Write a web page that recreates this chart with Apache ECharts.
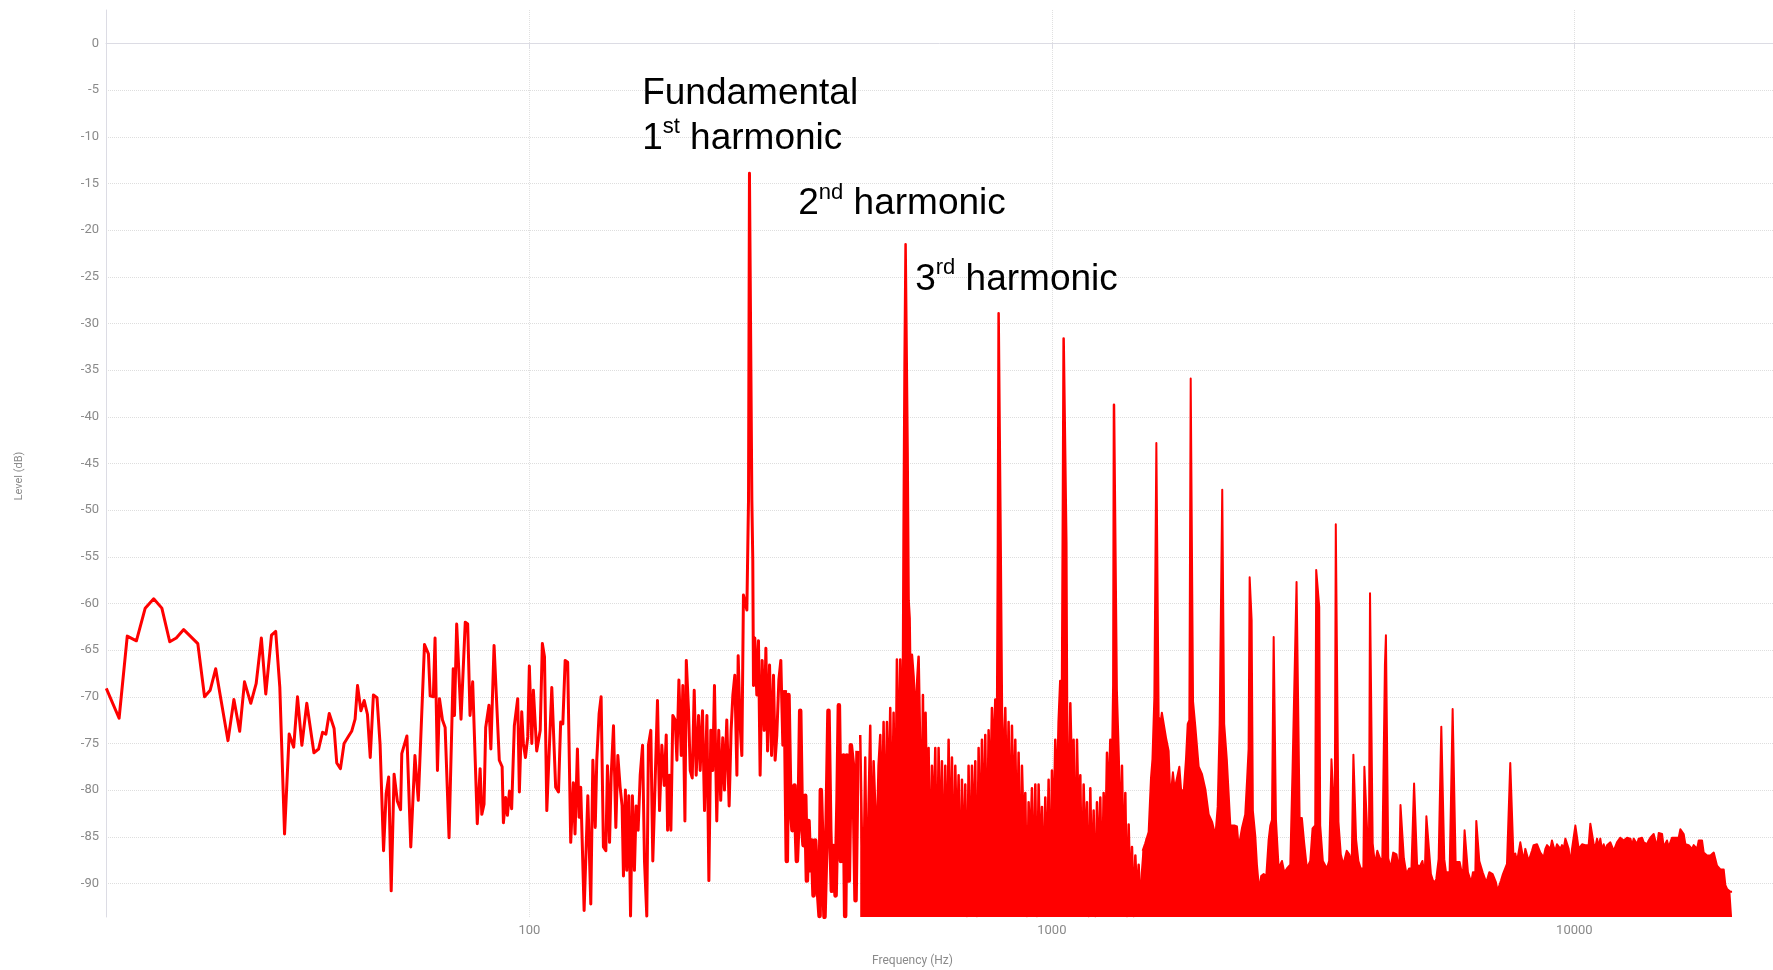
<!DOCTYPE html>
<html>
<head>
<meta charset="utf-8">
<title>Spectrum</title>
<script src="https://cdn.jsdelivr.net/npm/echarts@6/dist/echarts.min.js"></script>
<style>
  html, body { margin: 0; padding: 0; background: #fff; }
  #chart { width: 1773px; height: 970px; }
</style>
</head>
<body>
<div id="chart"></div>
<script>
// values: [frequency (Hz), level (dB)]

// 15 - 150 Hz, a single sparse trace
const lowSweep = [
  [15.5,-69.1],[16.4,-72.3],[17.0,-63.5],[17.7,-64.0],[18.4,-60.5],[19.1,-59.5],[19.8,-60.5],[20.5,-64.1],
  [21.1,-63.7],[21.8,-62.8],[23.2,-64.3],[23.9,-70.0],[24.5,-69.3],[25.1,-67.0],[26.5,-74.7],[27.2,-70.3],
  [27.9,-73.7],[28.5,-68.4],[29.3,-70.7],[30.0,-68.6],[30.7,-63.7],[31.3,-69.7],[32.1,-63.4],[32.7,-63.0],
  [33.3,-69.0],[34.0,-84.7],[34.7,-74.0],[35.4,-75.4],[36.0,-70.0],[36.7,-75.2],[37.5,-70.7],[38.7,-76.0],
  [39.5,-75.6],[40.2,-73.8],[40.8,-74.0],[41.4,-71.8],[42.3,-73.4],[42.8,-77.1],[43.5,-77.7],[44.2,-75.0],
  [45.1,-74.2],[45.7,-73.7],[46.4,-72.4],[46.9,-68.8],[47.6,-71.5],[48.3,-70.4],[49.0,-71.9],[49.6,-76.5],
  [50.3,-69.8],[51.1,-70.1],[51.8,-75.1],[52.6,-86.5],[53.2,-80.4],[53.8,-78.6],[54.4,-90.8],[55.1,-78.3],
  [55.9,-81.2],[56.7,-82.1],[57.0,-76.1],[58.3,-74.2],[59.3,-86.1],[60.4,-76.3],[61.3,-81.1],[63.0,-64.4],
  [64.1,-65.4],[64.6,-69.9],[65.5,-70.0],[66.0,-63.7],[66.7,-77.9],[67.3,-70.2],[68.2,-72.5],[69.0,-73.3],
  [70.2,-85.1],[71.5,-67.0],[71.9,-72.0],[72.6,-62.2],[74.0,-72.4],[75.4,-62.0],[76.2,-62.2],[77.0,-72.0],
  [77.9,-68.4],[79.5,-83.6],[80.5,-77.7],[81.1,-82.6],[81.9,-81.5],[82.5,-73.3],[83.7,-70.9],[84.4,-75.6],
  [85.6,-64.5],[87.6,-76.8],[88.7,-77.5],[89.2,-83.5],[90.1,-80.8],[90.8,-82.7],[91.6,-80.1],[92.5,-82.0],
  [93.6,-73.1],[95.0,-70.2],[95.7,-80.2],[96.7,-71.6],[97.4,-75.0],[98.3,-76.5],[99.3,-74.3],[100.0,-66.7],
  [101.1,-75.0],[101.8,-69.3],[103.3,-75.8],[104.9,-73.6],[105.9,-64.3],[106.9,-65.7],[108.0,-82.2],[110.4,-69.0],
  [112.3,-79.7],[113.7,-80.2],[114.8,-72.7],[115.9,-72.9],[117.1,-66.1],[118.4,-66.3],[120.0,-85.6],[121.4,-79.2],
  [122.3,-84.7],[123.6,-75.6],[124.5,-82.9],[125.4,-79.7],[127.3,-92.9],[129.4,-80.6],[131.1,-92.2],[132.3,-76.8],
  [133.7,-84.0],[134.6,-76.8],[136.0,-71.8],[137.2,-70.0],[138.6,-86.1],[140.1,-86.5],[141.1,-77.4],[142.4,-85.6],
  [143.4,-78.6],[144.9,-73.1],[146.4,-84.0],[147.7,-76.3],[149.2,-79.7]
];

// 150 - 310 Hz, around the fundamental
const fundamentalZone = [
  [150.5,-81.7],[151.4,-89.2],[152.7,-80.0],[153.6,-88.6],[155.0,-80.6],[156.2,-93.5],[157.5,-80.6],[158.9,-88.6],
  [160.1,-81.7],[161.5,-84.3],[163.0,-78.4],[164.7,-75.2],[166.1,-87.6],[167.8,-93.5],[169.0,-75.2],[170.8,-73.6],
  [172.3,-87.6],[174.1,-79.0],[175.9,-70.4],[177.5,-82.2],[179.3,-75.2],[181.2,-79.5],[182.8,-74.1],[183.9,-84.3],
  [185.5,-78.4],[186.6,-84.3],[188.2,-72.0],[190.2,-72.5],[191.6,-76.8],[193.3,-68.2],[195.3,-76.3],[196.7,-68.8],
  [198.5,-83.3],[199.7,-66.1],[201.7,-71.5],[203.2,-77.9],[205.0,-78.7],[206.8,-69.3],[208.6,-78.4],[210.8,-72.0],
  [212.3,-77.9],[214.5,-71.5],[216.4,-82.2],[218.7,-72.0],[220.6,-89.7],[222.5,-73.6],[224.4,-77.9],[226.1,-68.8],
  [228.4,-83.3],[230.4,-73.6],[232.4,-81.1],[234.5,-74.4],[236.3,-80.0],[238.7,-72.5],[241.2,-81.7],[243.3,-73.6],
  [245.2,-69.8],[247.3,-67.7],[249.6,-78.4],[251.0,-65.6],[253.2,-73.1],[255.1,-76.3],[256.9,-59.1],[259.6,-60.2],
  [260.8,-60.7],[262.7,-48.9],[263.8,-13.9],[265.4,-13.9],[266.6,-48.9],[267.7,-55.4],[268.5,-68.8],[270.1,-63.7],
  [272.5,-69.8],[274.5,-64.0],[276.5,-78.4],[279.0,-66.1],[281.5,-73.6],[283.6,-64.8],[285.7,-75.8],[288.2,-66.6],
  [290.8,-76.3],[293.3,-67.7],[295.4,-76.8],[297.6,-74.1],[300.3,-68.2],[302.9,-66.1],[305.6,-75.2],[308.3,-69.3]
];

// 310 - 425 Hz, the dense tangle between the fundamental and the 2nd harmonic
const skirtZone = [
  [308.3,-69.3],[311.0,-87.6],[313.3,-69.8],[315.6,-80.6],[318.9,-84.3],[321.7,-79.5],[325.1,-87.6],[327.9,-82.2],
  [329.9,-71.5],[332.3,-83.3],[334.8,-85.9],[337.3,-80.6],[339.8,-89.7],[342.2,-83.3],[344.7,-88.6],[347.2,-85.4],
  [349.9,-91.3],[352.4,-85.4],[356.1,-90.2],[359.3,-93.5],[361.3,-80.0],[364.5,-87.6],[367.2,-93.6],[369.9,-86.5],
  [373.7,-71.5],[376.6,-84.3],[379.3,-90.8],[382.2,-86.0],[385.6,-91.3],[388.9,-81.1],[391.2,-70.9],[394.7,-87.6],
  [399.3,-76.3],[402.2,-93.5],[405.3,-76.3],[408.7,-89.7],[412.4,-75.2],[417.3,-77.9],[421.0,-91.8],[424.7,-75.8]
];

// 430 - 1520 Hz, harmonics 2 to 5 over a dense noise trace
const harmonicZone = [
  [429.8,-74.1],[433.0,-85.1],[436.2,-89.4],[439.4,-76.5],[442.7,-93.2],[445.9,-81.8],[449.2,-73.1],[452.5,-88.0],
  [455.9,-76.9],[459.2,-81.8],[462.6,-85.6],[466.0,-77.4],[469.5,-74.1],[472.9,-83.7],[476.4,-72.7],[479.9,-86.5],
  [483.5,-72.7],[487.0,-82.2],[490.6,-71.2],[494.2,-85.1],[497.9,-71.7],[501.5,-86.5],[505.2,-66.0],[509.0,-79.4],
  [512.7,-66.0],[516.5,-72.7],[518.8,-67.9],[520.3,-52.5],[522.6,-34.3],[524.9,-21.5],[528.0,-21.5],[529.6,-43.9],
  [531.9,-59.7],[534.3,-61.6],[537.4,-72.7],[539.8,-65.5],[543.8,-67.9],[547.8,-72.7],[551.8,-68.8],[555.9,-65.7],
  [560.0,-76.0],[564.1,-82.2],[566.6,-69.8],[570.0,-85.6],[573.3,-71.7],[576.7,-81.8],[581.0,-75.5],[585.2,-90.4],
  [589.6,-77.4],[593.9,-84.6],[598.3,-75.5],[602.7,-91.8],[607.1,-75.5],[611.6,-87.0],[616.1,-76.9],[620.6,-90.4],
  [625.2,-77.4],[629.8,-88.9],[634.5,-74.6],[639.2,-88.0],[643.9,-76.5],[648.6,-91.3],[653.4,-77.4],[658.2,-86.1],
  [663.1,-78.4],[668.0,-92.8],[672.9,-78.9],[677.8,-89.4],[682.8,-79.4],[687.9,-93.5],[692.9,-77.4],[698.0,-90.4],
  [703.2,-77.4],[708.4,-86.1],[713.6,-76.9],[718.9,-93.5],[724.2,-75.5],[729.5,-88.0],[734.9,-74.6],[740.3,-86.1],
  [745.7,-74.1],[751.2,-88.9],[756.8,-73.6],[762.4,-81.3],[768.0,-71.2],[773.7,-77.4],[779.4,-70.3],[785.1,-75.0],
  [788.6,-53.5],[790.9,-28.9],[795.5,-28.9],[797.9,-53.5],[802.6,-71.7],[808.5,-79.4],[814.5,-71.2],[820.5,-82.2],
  [826.5,-72.7],[832.6,-86.1],[838.8,-73.1],[845.0,-83.7],[851.2,-74.6],[857.5,-87.0],[863.8,-76.0],[870.2,-91.8],
  [876.6,-77.4],[883.1,-84.6],[889.6,-80.3],[896.1,-93.5],[902.7,-81.3],[909.4,-86.5],[916.1,-79.8],[922.8,-91.8],
  [929.7,-79.4],[936.5,-93.5],[943.4,-79.4],[950.3,-88.0],[957.4,-81.8],[964.4,-91.8],[971.5,-80.8],[978.7,-89.9],
  [985.9,-78.9],[993.2,-93.2],[1000.5,-77.9],[1007.9,-85.6],[1015.3,-74.6],[1022.8,-81.3],[1030.4,-72.7],[1038.0,-68.3],
  [1045.6,-70.7],[1050.2,-48.7],[1053.3,-31.6],[1059.5,-31.6],[1065.8,-53.5],[1068.9,-70.3],[1076.8,-88.5],[1084.8,-70.7],
  [1092.8,-78.9],[1100.8,-74.6],[1108.9,-90.9],[1117.1,-74.6],[1125.4,-83.7],[1133.7,-78.4],[1142.0,-92.3],[1150.5,-79.4],
  [1158.9,-87.0],[1167.5,-81.3],[1176.1,-93.5],[1184.8,-79.8],[1193.5,-90.9],[1202.3,-82.2],[1211.1,-93.5],[1220.1,-81.3],
  [1229.1,-88.9],[1238.1,-80.8],[1247.3,-91.8],[1256.5,-80.3],[1265.7,-87.0],[1275.1,-76.0],[1284.5,-82.2],[1293.9,-74.6],
  [1303.5,-78.9],[1311.2,-68.8],[1315.0,-38.7],[1322.8,-38.7],[1330.6,-69.3],[1342.4,-76.5],[1352.3,-86.1],[1362.2,-77.4],
  [1372.3,-89.4],[1382.4,-80.3],[1392.6,-93.5],[1402.9,-83.7],[1413.2,-91.8],[1423.6,-86.1],[1434.1,-93.5],[1444.7,-87.0],
  [1455.4,-91.8],[1466.1,-88.0],[1476.9,-93.2],[1487.8,-88.9],[1498.8,-86.5],[1509.8,-91.8],[1520.9,-85.1]
];

// 1.5 - 20 kHz: top edge of the solid noise floor, with the upper harmonics
const noiseFloor = [
  [1492,-86.5],[1509,-85.7],[1532,-84.5],[1548,-78.7],[1558,-76.7],[1571,-70.1],[1581,-70.1],[1585,-42.8],
  [1594,-42.8],[1601,-72.1],[1613,-72.9],[1624,-71.7],[1637,-71.5],[1654,-74.4],[1673,-75.8],[1686,-81.0],
  [1705,-78.1],[1718,-79.9],[1736,-78.7],[1754,-77.5],[1767,-79.9],[1788,-80.2],[1806,-76.7],[1820,-72.9],
  [1833,-72.5],[1844,-35.9],[1854,-35.9],[1863,-70.5],[1882,-73.2],[1910,-77.5],[1938,-78.3],[1967,-79.9],
  [1996,-82.6],[2026,-83.4],[2056,-84.9],[2077,-81.8],[2095,-72.9],[2110,-72.7],[2119,-47.8],[2128,-47.8],
  [2137,-72.9],[2162,-76.7],[2196,-83.8],[2235,-83.8],[2261,-83.9],[2278,-86.1],[2311,-84.1],[2345,-82.6],
  [2363,-79.1],[2380,-75.6],[2391,-57.2],[2401,-57.2],[2412,-61.8],[2425,-82.2],[2451,-84.9],[2469,-88.0],
  [2494,-90.8],[2516,-89.2],[2543,-89.0],[2573,-89.2],[2600,-85.3],[2619,-83.8],[2638,-83.2],[2658,-63.6],
  [2669,-63.6],[2685,-83.2],[2717,-88.4],[2757,-87.6],[2785,-88.8],[2818,-88.4],[2860,-88.0],[2889,-77.7],
  [2911,-77.7],[2940,-57.7],[2958,-57.7],[2980,-83.0],[3010,-83.0],[3041,-85.7],[3077,-88.4],[3123,-87.6],
  [3155,-84.1],[3192,-83.8],[3206,-56.4],[3230,-56.4],[3249,-60.4],[3263,-83.8],[3301,-87.6],[3360,-88.4],
  [3394,-87.6],[3429,-76.7],[3454,-76.7],[3479,-83.8],[3495,-51.5],[3515,-51.5],[3536,-83.4],[3573,-86.9],
  [3614,-88.0],[3668,-86.5],[3711,-86.9],[3749,-88.0],[3777,-76.2],[3799,-76.2],[3822,-85.3],[3861,-87.6],
  [3901,-88.4],[3947,-88.4],[3964,-77.5],[3994,-77.5],[4017,-84.9],[4046,-85.3],[4064,-58.9],[4088,-58.9],
  [4112,-85.7],[4154,-88.0],[4197,-86.5],[4246,-87.3],[4290,-87.6],[4340,-66.6],[4359,-63.4],[4378,-63.4],
  [4404,-87.3],[4449,-88.4],[4501,-86.7],[4567,-86.9],[4621,-88.8],[4648,-81.6],[4682,-81.6],[4717,-87.3],
  [4772,-89.0],[4828,-88.4],[4878,-88.4],[4935,-79.3],[4964,-79.3],[5001,-88.0],[5060,-88.2],[5120,-87.6],
  [5172,-89.2],[5210,-82.8],[5250,-82.8],[5315,-89.0],[5363,-89.7],[5411,-89.9],[5443,-89.5],[5499,-87.4],
  [5540,-87.2],[5564,-73.2],[5605,-73.2],[5637,-87.4],[5679,-88.8],[5721,-88.9],[5772,-88.8],[5806,-88.6],
  [5849,-71.3],[5900,-71.3],[5926,-87.7],[5978,-87.6],[6032,-87.7],[6077,-88.6],[6120,-89.3],[6165,-84.3],
  [6211,-84.3],[6257,-88.8],[6303,-89.0],[6350,-89.9],[6397,-88.8],[6464,-88.8],[6492,-83.3],[6540,-83.3],
  [6578,-87.6],[6627,-87.7],[6676,-88.8],[6725,-89.0],[6784,-89.9],[6825,-89.9],[6874,-88.8],[6925,-88.6],
  [6976,-89.0],[7027,-89.0],[7079,-89.9],[7132,-90.8],[7184,-90.6],[7238,-89.7],[7301,-89.0],[7355,-89.0],
  [7432,-87.9],[7487,-87.9],[7540,-77.1],[7596,-77.1],[7652,-87.7],[7709,-86.8],[7766,-87.7],[7823,-87.6],
  [7881,-85.6],[7939,-85.6],[7998,-87.6],[8057,-86.3],[8115,-86.3],[8175,-87.6],[8236,-87.4],[8297,-86.5],
  [8358,-85.9],[8420,-85.9],[8482,-85.8],[8545,-85.8],[8608,-86.7],[8672,-86.7],[8736,-87.2],[8801,-86.3],
  [8866,-85.9],[8932,-85.9],[8998,-86.3],[9061,-85.4],[9128,-86.1],[9196,-86.5],[9264,-85.8],[9333,-85.9],
  [9402,-86.3],[9471,-85.9],[9541,-86.3],[9612,-85.2],[9681,-85.2],[9753,-86.3],[9825,-87.9],[9898,-86.3],
  [9971,-86.5],[10045,-83.8],[10119,-83.8],[10194,-86.3],[10270,-86.1],[10346,-85.8],[10419,-85.8],[10496,-85.9],
  [10574,-85.8],[10652,-85.9],[10731,-83.6],[10811,-83.4],[10891,-85.8],[10971,-86.1],[11053,-85.2],[11135,-86.1],
  [11213,-85.2],[11296,-86.5],[11380,-85.8],[11464,-86.5],[11549,-85.9],[11634,-85.8],[11720,-85.6],[11807,-85.8],
  [11894,-86.5],[11982,-86.7],[12068,-85.6],[12157,-85.8],[12247,-85.1],[12338,-85.1],[12429,-85.4],[12521,-85.4],
  [12614,-85.1],[12707,-84.9],[12801,-85.2],[12896,-85.9],[12988,-85.2],[13084,-85.1],[13181,-85.8],[13279,-85.2],
  [13377,-85.4],[13476,-85.1],[13576,-85.6],[13676,-85.4],[13777,-85.8],[13879,-85.4],[13978,-85.1],[14081,-84.9],
  [14186,-84.7],[14291,-84.9],[14396,-86.1],[14503,-84.6],[14610,-84.5],[14718,-84.7],[14827,-86.1],[14937,-85.9],
  [15043,-85.4],[15154,-86.1],[15266,-85.6],[15379,-85.1],[15493,-84.9],[15608,-85.1],[15723,-84.9],[15839,-85.1],
  [15957,-84.2],[16075,-84.2],[16190,-84.7],[16310,-85.8],[16431,-85.9],[16552,-85.9],[16675,-85.8],[16798,-86.3],
  [16922,-85.9],[17048,-85.8],[17174,-86.3],[17301,-85.4],[17424,-85.4],[17553,-85.4],[17683,-86.7],[17814,-86.8],
  [17946,-87.0],[18079,-86.8],[18212,-87.0],[18347,-86.8],[18483,-86.7],[18620,-86.7],[18752,-88.1],[18891,-88.3],
  [19031,-88.5],[19172,-88.3],[19313,-88.5],[19456,-90.2],[19600,-90.6],[19745,-90.4],[19891,-90.9],[20039,-90.9]
];

// annotations: anchor (Hz, dB) of the left edge / vertical middle of each label
const noteHz = [164.4, 327.1, 547.6];
const noteDb = [-7.8, -17.2, -25.3];
const noteText = [
  '{b|Fundamental}\n{b|1}{s|st}{b| harmonic}',
  '{b|2}{s|nd}{b| harmonic}',
  '{b|3}{s|rd}{b| harmonic}'
];

const RED = '#ff0000';
const AXIS = '#dcdce4';
const LABEL = '#8a8a8a';
const NOTE_FONT = 'Liberation Sans, Arial, sans-serif';

const chart = echarts.init(document.getElementById('chart'), null, { renderer: 'canvas' });

const traceSeries = (name, data, width, filled) => ({
  name,
  type: 'line',
  data,
  showSymbol: false,
  symbol: 'none',
  lineStyle: { color: RED, width, join: 'round' },
  itemStyle: { color: RED },
  areaStyle: filled ? { color: RED, opacity: 1, origin: 'start' } : undefined
});

const lowTrace = traceSeries('Level', lowSweep.concat(fundamentalZone), 3, false);
lowTrace.markPoint = {
  symbol: 'circle',
  symbolSize: 0,
  silent: true,
  label: {
    show: true,
    position: 'right',
    distance: 0,
    formatter: p => noteText[p.dataIndex],
    rich: {
      b: { fontSize: 37, lineHeight: 45, color: '#000', fontFamily: NOTE_FONT },
      s: { fontSize: 22, lineHeight: 32, verticalAlign: 'top', color: '#000', fontFamily: NOTE_FONT }
    }
  },
  data: noteHz.map((hz, i) => ({ coord: [hz, noteDb[i]] }))
};

const option = {
  animation: false,
  backgroundColor: '#fff',
  grid: { left: 106, right: 0, top: 10, bottom: 53, containLabel: false, outerBoundsMode: 'none' },
  xAxis: {
    type: 'log',
    logBase: 10,
    min: 15.48,
    max: 24000,
    name: 'Frequency (Hz)',
    nameLocation: 'middle',
    nameGap: 38,
    nameTextStyle: { color: LABEL, fontSize: 12, fontFamily: 'Roboto', padding: [0, 54, 0, 0] },
    axisLine: { show: true, lineStyle: { color: AXIS, width: 1 } },
    axisTick: { show: true, length: 5, lineStyle: { color: AXIS } },
    axisLabel: {
      color: LABEL, fontSize: 13, fontFamily: 'Roboto', margin: 7,
      showMinLabel: false, showMaxLabel: false,
      formatter: v => String(Math.round(v))
    },
    splitLine: { show: true, showMinLine: false, showMaxLine: false, lineStyle: { color: '#e0e0e0', type: 'dotted' } }
  },
  yAxis: {
    type: 'value',
    min: -93.6,
    max: 3.6,
    splitNumber: 20,
    name: 'Level (dB)',
    nameLocation: 'middle',
    nameGap: 81,
    nameRotate: 90,
    nameTextStyle: { color: LABEL, fontSize: 11, fontFamily: 'Roboto', padding: [0, 25, 0, 0] },
    axisLine: { show: true, lineStyle: { color: AXIS, width: 1 } },
    axisTick: { show: false },
    axisLabel: { color: LABEL, fontSize: 13, fontFamily: 'Roboto', margin: 7, showMinLabel: false, showMaxLabel: false },
    splitLine: { show: true, showMinLine: false, showMaxLine: false, lineStyle: { color: '#dedede', type: 'dotted' } }
  },
  series: [
    lowTrace,
    traceSeries('Skirt', skirtZone, 4.5, false),
    traceSeries('Harmonics', harmonicZone, 2.5, true),
    traceSeries('Noise floor', noiseFloor, 2, true)
  ]
};

chart.setOption(option);
window.addEventListener('resize', () => chart.resize());
</script>
</body>
</html>
